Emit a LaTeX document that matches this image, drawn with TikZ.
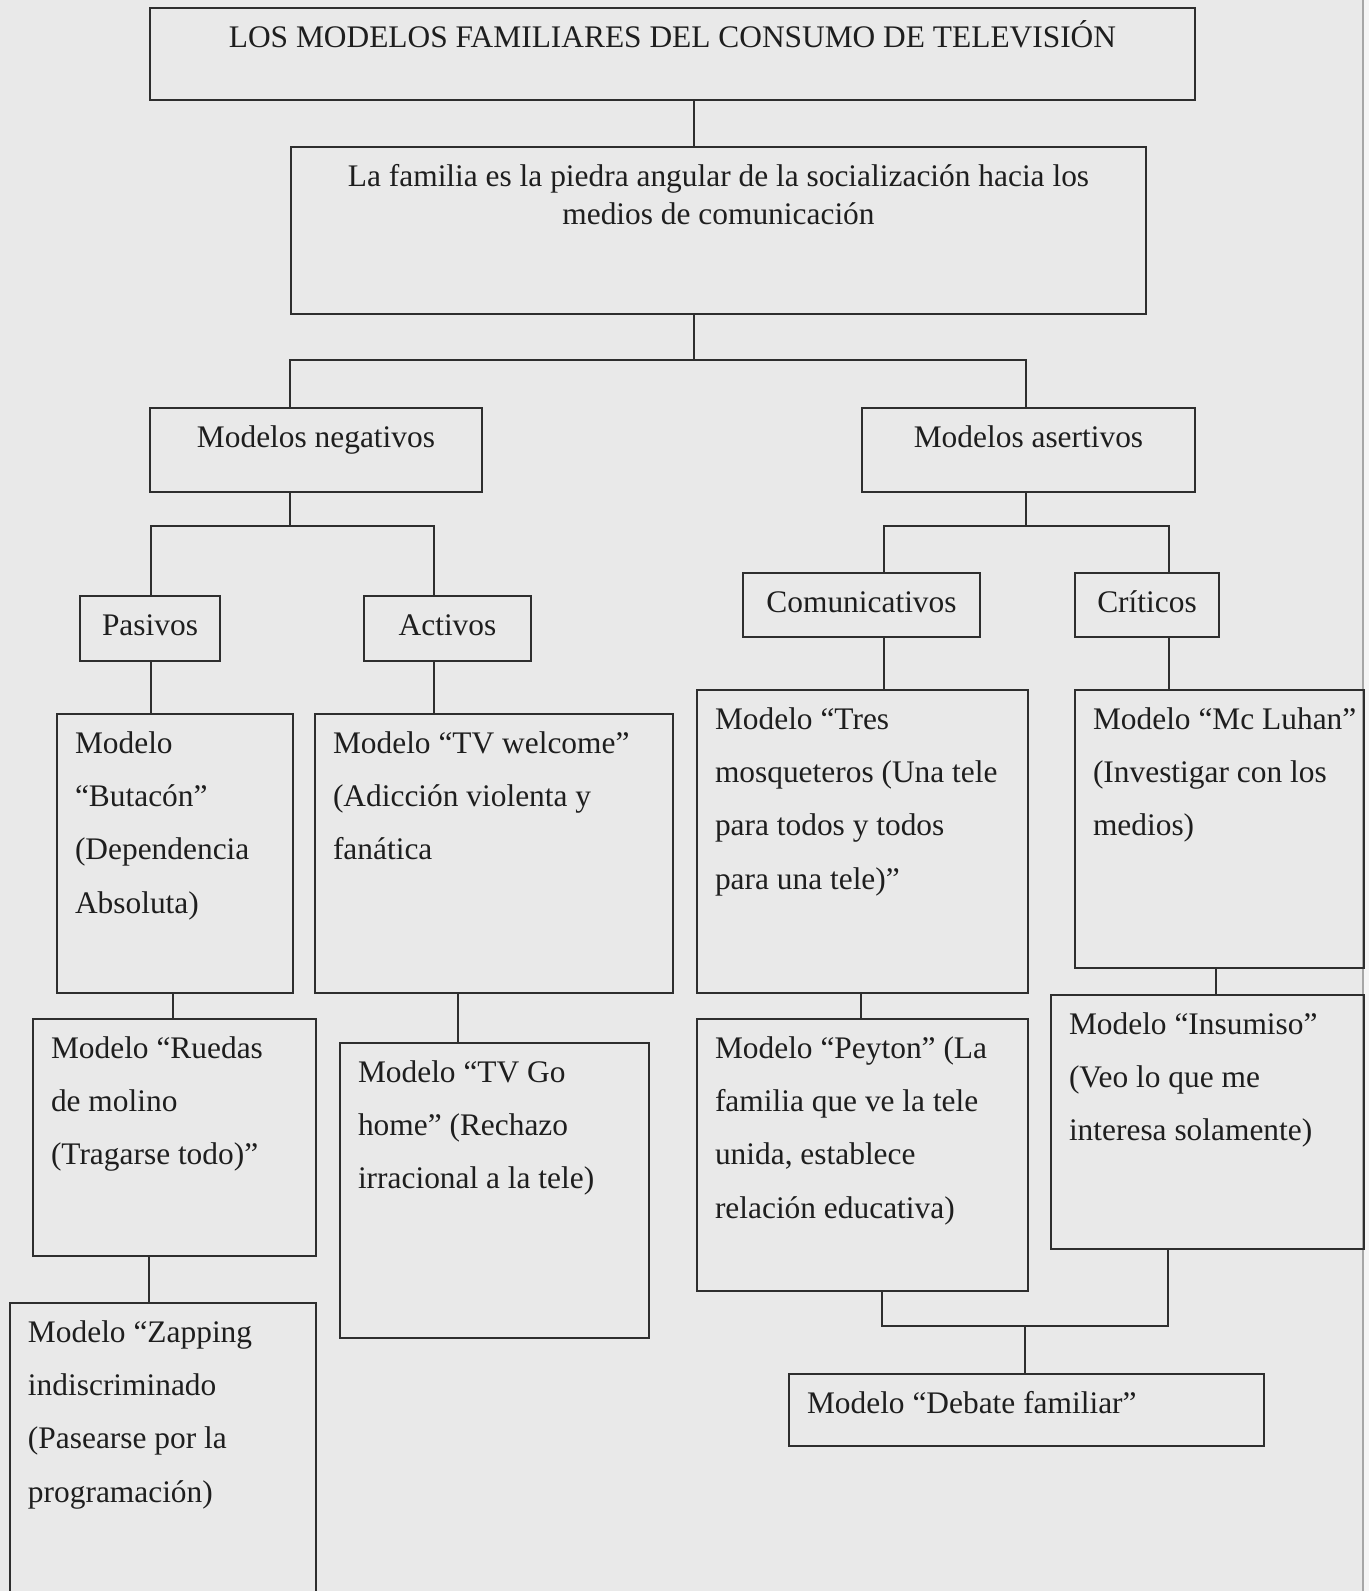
\documentclass[tikz,border=0pt]{standalone}
\usepackage{fontspec}
\setmainfont{Liberation Serif}
\definecolor{papier}{HTML}{E9E9E9}
\definecolor{rand}{HTML}{F5F5F5}
\definecolor{strich}{HTML}{2E2E2E}
\definecolor{schrift}{HTML}{1E1E1E}
\newcommand{\feld}[4][\raggedright\leftskip=9pt\relax]{\parbox[c][#3][t]{#2}{#1\rule{0pt}{19.5pt}#4}}
\tikzset{
  kasten/.style={draw=strich,line width=1pt,inner sep=0pt,anchor=north west,text=schrift,
    font=\fontsize{15.7}{26.7}\selectfont},
  linie/.style={strich,line width=1pt},
  blatt/.style={gray!70,line width=0.8pt},
}

\begin{document}
\begin{tikzpicture}[x=0.5pt,y=-0.5pt]
  \useasboundingbox (0,0) rectangle (1369,1591);
  \clip (0,0) rectangle (1369,1591);
  \fill[papier] (0,0) rectangle (1363,1591);
  \fill[rand] (1363,0) rectangle (1369,1591);
  \draw[blatt] (1363,0) -- (1363,1591);
  % Kopf
  \node[kasten] (titel) at (149,7) {\feld[\centering]{522.5pt}{46pt}{LOS MODELOS FAMILIARES DEL CONSUMO DE TELEVISIÓN}};
  \node[kasten] (familia) at (290,146) {\feld[\centering\baselineskip=19.3pt\relax]{427.5pt}{83.5pt}{La familia es la piedra angular de la socialización hacia los\\medios de comunicación}};
  \node[kasten] (negativ) at (149,407) {\feld[\centering]{166pt}{42pt}{Modelos negativos}};
  \node[kasten] (asertiv) at (861,407) {\feld[\centering]{166.5pt}{42pt}{Modelos asertivos}};
  \node[kasten] (pasiv) at (79,595) {\feld[\centering]{70pt}{32.5pt}{Pasivos}};
  \node[kasten] (aktiv) at (363,595) {\feld[\centering]{83.5pt}{32.5pt}{Activos}};
  \node[kasten] (komm) at (742,572) {\feld[\centering]{118.5pt}{32pt}{Comunicativos}};
  \node[kasten] (krit) at (1074,572) {\feld[\centering]{72pt}{32pt}{Críticos}};
  % Modelle
  \node[kasten] (butacon) at (56,713) {\feld{118pt}{139.5pt}{Modelo\\“Butacón”\\(Dependencia\\Absoluta)}};
  \node[kasten] (welcome) at (314,713) {\feld{179pt}{139.5pt}{Modelo “TV welcome”\\(Adicción violenta y\\fanática}};
  \node[kasten] (tres) at (696,689) {\feld{165.5pt}{151.5pt}{Modelo “Tres\\mosqueteros (Una tele\\para todos y todos\\para una tele)”}};
  \node[kasten] (luhan) at (1074,689) {\feld{144.5pt}{139pt}{Modelo “Mc Luhan”\\(Investigar con los\\medios)}};
  \node[kasten] (ruedas) at (32,1018) {\feld{141.5pt}{118.5pt}{Modelo “Ruedas\\de molino\\(Tragarse todo)”}};
  \node[kasten] (tvgo) at (339,1042) {\feld{154.5pt}{147.5pt}{Modelo “TV Go\\home” (Rechazo\\irracional a la tele)}};
  \node[kasten] (peyton) at (696,1018) {\feld{165.5pt}{136pt}{Modelo “Peyton” (La\\familia que ve la tele\\unida, establece\\relación educativa)}};
  \node[kasten] (insumiso) at (1050,994) {\feld{156.5pt}{127pt}{Modelo “Insumiso”\\(Veo lo que me\\interesa solamente)}};
  \node[kasten] (zapping) at (9,1302) {\feld{153pt}{150pt}{Modelo “Zapping\\indiscriminado\\(Pasearse por la\\programación)}};
  \node[kasten] (debate) at (788,1373) {\feld{237.5pt}{36pt}{Modelo “Debate familiar”}};
  % Verbindungen
  \coordinate (gabel1) at (694,360);
  \coordinate (gabel2) at (290,526);
  \coordinate (gabel3) at (1026,526);
  \coordinate (gabel4) at (1025,1326);
  \draw[linie] (titel.south -| 694,0) -- (familia.north -| 694,0);
  \draw[linie] (familia.south -| gabel1) -- (gabel1);
  \draw[linie] (negativ.north -| 290,0) -- (290,360) -- (1026,360) -- (asertiv.north -| 1026,0);
  \draw[linie] (negativ.south -| gabel2) -- (gabel2);
  \draw[linie] (pasiv.north -| 151,0) -- (151,526) -- (434,526) -- (aktiv.north -| 434,0);
  \draw[linie] (asertiv.south -| gabel3) -- (gabel3);
  \draw[linie] (komm.north -| 884,0) -- (884,526) -- (1169,526) -- (krit.north -| 1169,0);
  \draw[linie] (pasiv.south -| 151,0) -- (butacon.north -| 151,0);
  \draw[linie] (aktiv.south -| 434,0) -- (welcome.north -| 434,0);
  \draw[linie] (komm.south -| 884,0) -- (tres.north -| 884,0);
  \draw[linie] (krit.south -| 1169,0) -- (luhan.north -| 1169,0);
  \draw[linie] (butacon.south -| 173,0) -- (ruedas.north -| 173,0);
  \draw[linie] (welcome.south -| 458,0) -- (tvgo.north -| 458,0);
  \draw[linie] (tres.south -| 861,0) -- (peyton.north -| 861,0);
  \draw[linie] (luhan.south -| 1216,0) -- (insumiso.north -| 1216,0);
  \draw[linie] (ruedas.south -| 149,0) -- (zapping.north -| 149,0);
  \draw[linie] (peyton.south -| 882,0) -- (882,1326) -- (1168,1326) -- (insumiso.south -| 1168,0);
  \draw[linie] (gabel4) -- (debate.north -| gabel4);
\end{tikzpicture}
\end{document}
